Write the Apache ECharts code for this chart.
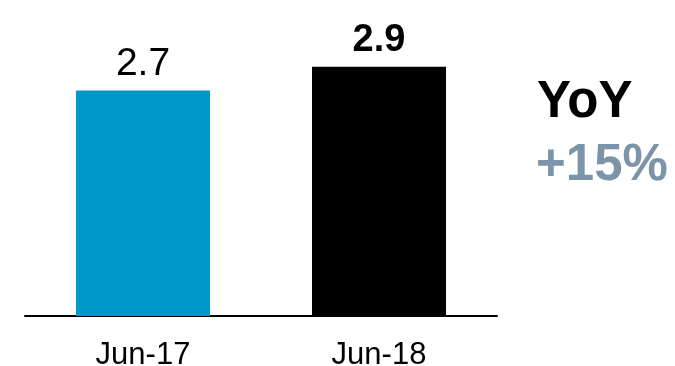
<!DOCTYPE html>
<html>
<head>
<meta charset="utf-8">
<style>
html,body{margin:0;padding:0;background:#fff;}
#chart{width:675px;height:366px;}
</style>
<script src="https://cdn.jsdelivr.net/npm/echarts@6/dist/echarts.min.js"></script>
</head>
<body>
<div id="chart"></div>
<script>
var categories = ['Jun-17', 'Jun-18'];
var values = [2.7, 2.9];
var barColors = ['#0097C9', '#000000'];
var labelWeights = ['normal', 'bold'];
var yoyTitle = 'YoY';
var yoyValue = '+15%';

var FONT = '"Liberation Sans", Arial, sans-serif';
var chart = echarts.init(document.getElementById('chart'), null, {renderer: 'canvas'});

var data = values.map(function (v, i) {
  return {
    value: v,
    itemStyle: {color: barColors[i]},
    label: {fontWeight: labelWeights[i], fontSize: labelWeights[i] === 'bold' ? 38 : 39}
  };
});

chart.setOption({
  animation: false,
  backgroundColor: '#fff',
  grid: {left: 25, right: 178, top: 55, bottom: 50, containLabel: false, outerBoundsMode: 'none'},
  xAxis: {
    type: 'category',
    data: categories,
    axisLine: {show: true, lineStyle: {color: '#000', width: 2}},
    axisTick: {show: false},
    axisLabel: {color: '#000', fontSize: 31, fontFamily: FONT, margin: 24}
  },
  yAxis: {
    type: 'value',
    min: 0.8,
    max: 3.0,
    show: false,
    splitLine: {show: false}
  },
  series: [{
    type: 'bar',
    data: data,
    barWidth: 134,
    label: {
      show: true,
      position: 'top',
      distance: 7,
      color: '#000',
      fontFamily: FONT
    }
  }],
  graphic: [
    {
      type: 'text', left: 537, top: 77,
      style: {text: yoyTitle, fill: '#000', font: 'bold 51px ' + FONT}
    },
    {
      type: 'text', left: 536, top: 140,
      style: {text: yoyValue, fill: '#7B94A9', font: 'bold 51px ' + FONT}
    }
  ]
});
</script>
</body>
</html>
